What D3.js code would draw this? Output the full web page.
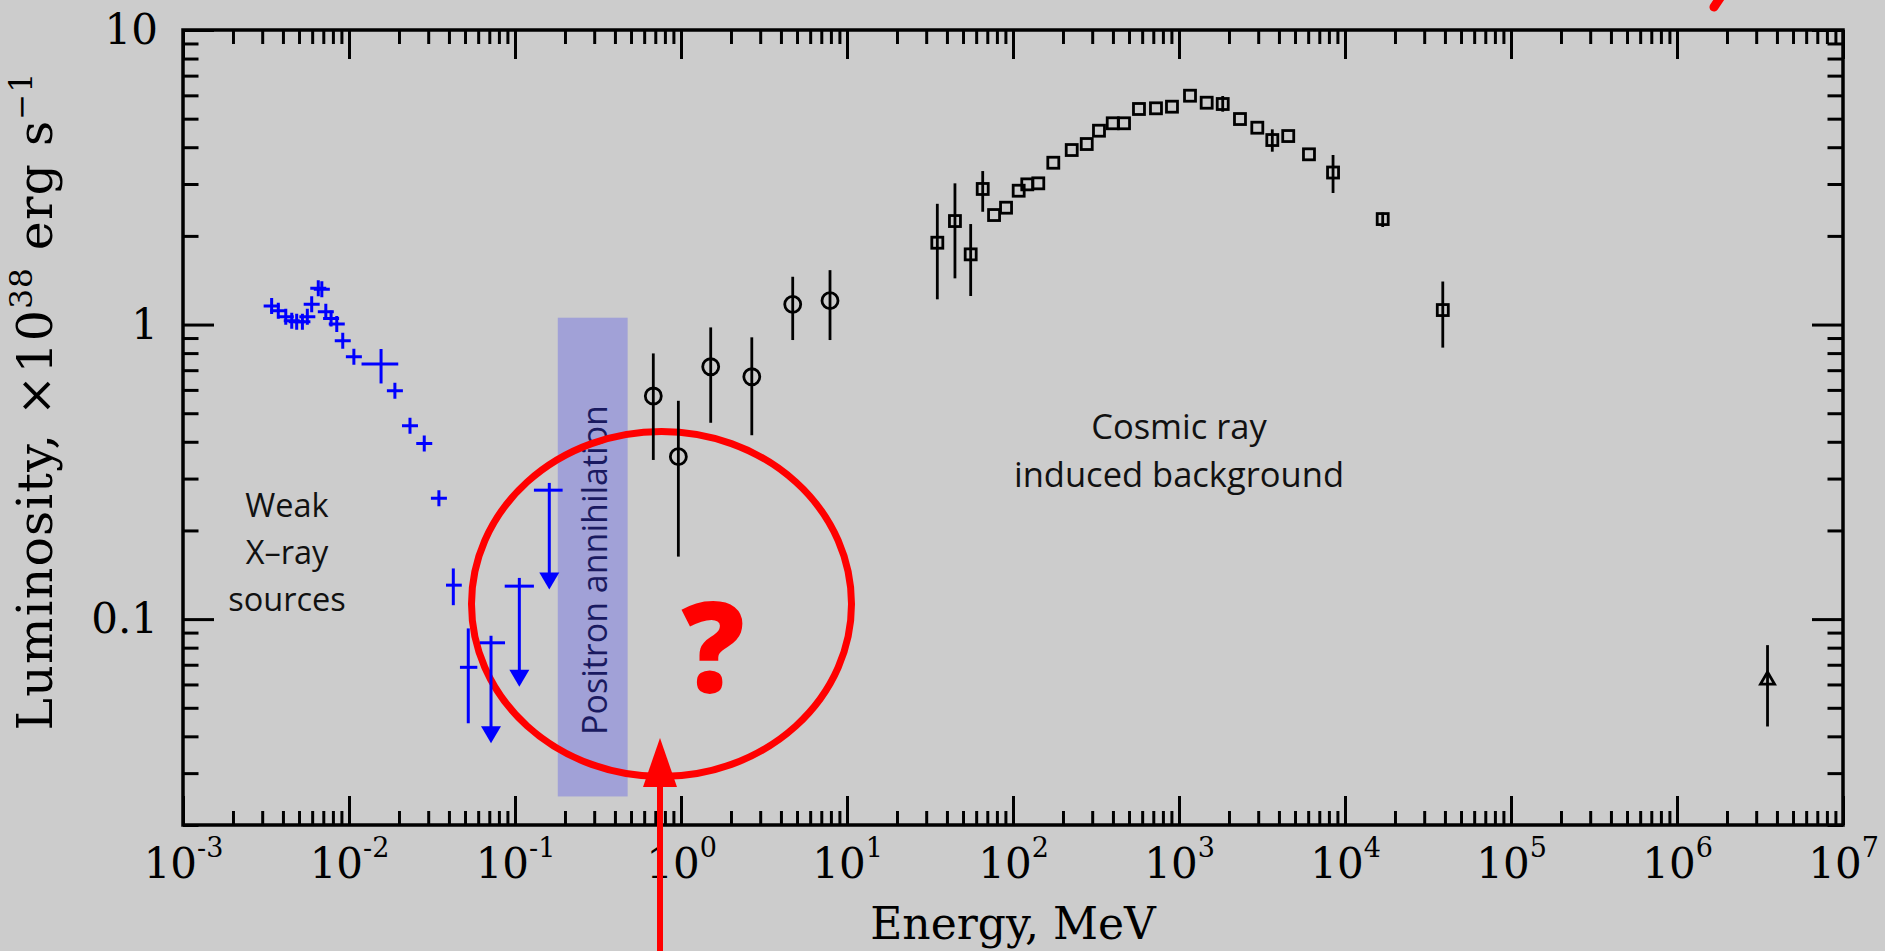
<!DOCTYPE html>
<html>
<head>
<meta charset="utf-8">
<script src="https://cdn.jsdelivr.net/npm/d3@7"></script>
<style>
  html, body { margin: 0; padding: 0; background: #cccccc; overflow: hidden; }
  svg { display: block; }
  text { white-space: pre; }
</style>
</head>
<body>
<svg id="chart" width="1885" height="951"></svg>
<script>
// ---------- data ----------
// Weak X-ray sources: plain points (energy in MeV, luminosity in 1e38 erg/s)
const xrayEnergy = [0.00342, 0.00375, 0.00416, 0.00452, 0.00484, 0.00524, 0.00561, 0.00596,
                    0.00653, 0.00686, 0.00725, 0.00780, 0.00844, 0.00917, 0.0107,
                    0.0189, 0.0233, 0.0284, 0.0348];
const xrayLum    = [1.156, 1.114, 1.063, 1.030, 1.022, 1.022, 1.063, 1.171,
                    1.327, 1.317, 1.105, 1.049, 1.004, 0.881, 0.777,
                    0.596, 0.453, 0.395, 0.257];

// X-ray points with explicit error bars
const xrayErrEnergy = [0.0156, 0.0425, 0.0523];
const xrayErrLum    = [0.734, 0.1304, 0.0686];
const xrayErrElo    = [0.0119, 0.0384, 0.0466];
const xrayErrEhi    = [0.0198, 0.0478, 0.0593];
const xrayErrLlo    = [0.631, 0.1115, 0.0443];
const xrayErrLhi    = [0.826, 0.1486, 0.0930];

// X-ray upper limits
const ulEnergy  = [0.0717, 0.1062, 0.1609];
const ulLum     = [0.0831, 0.1294, 0.274];
const ulElo     = [0.0615, 0.0867, 0.130];
const ulEhi     = [0.0871, 0.130, 0.1936];
const ulTop     = [0.0878, 0.138, 0.290];
const ulArrowTo = [0.0379, 0.0589, 0.126];

// MeV band (circles)
const mevEnergy = [0.681, 0.964, 1.51, 2.67, 4.71, 7.90];
const mevLum    = [0.572, 0.356, 0.719, 0.665, 1.171, 1.205];
const mevLo     = [0.347, 0.163, 0.464, 0.421, 0.886, 0.886];
const mevHi     = [0.798, 0.551, 0.978, 0.905, 1.453, 1.53];

// GeV band (squares); null = no error bar drawn
const gevEnergy = [35.0, 44.7, 55.6, 65.7, 76.9, 90.8, 108.2, 121.9, 142.0, 174.9,
                   225.8, 278.1, 329.6, 398.8, 466.5, 574.0, 726.6, 907.2, 1165, 1468,
                   1834, 2330, 2963, 3648, 4550, 6067, 8472, 16870, 38820];
const gevLum    = [1.896, 2.246, 1.731, 2.886, 2.354, 2.493, 2.847, 2.992, 3.016, 3.543,
                   3.913, 4.101, 4.551, 4.823, 4.823, 5.393, 5.422, 5.491, 5.983, 5.664,
                   5.607, 4.986, 4.659, 4.231, 4.365, 3.784, 3.282, 2.281, 1.120];
const gevLo     = [1.218, 1.435, 1.250, 2.415, null, null, null, null, null, null,
                   null, null, null, null, null, null, null, null, null, null,
                   5.28, null, null, 3.862, null, null, 2.796, 2.144, 0.835];
const gevHi     = [2.57, 3.016, 2.194, 3.320, null, null, null, null, null, null,
                   null, null, null, null, null, null, null, null, null, null,
                   5.97, null, null, 4.600, null, null, 3.764, 2.400, 1.400];

// TeV point (triangle)
const tevEnergy = [3.51e6];
const tevLum    = [0.0626];
const tevLo     = [0.0432];
const tevHi     = [0.0816];

// Positron annihilation band extent
const positronEnergy = [0.181, 0.477];
const positronLum    = [0.025, 1.055];

// Axis ticks
const xMajorTicks    = [1e-3, 1e-2, 1e-1, 1e0, 1e1, 1e2, 1e3, 1e4, 1e5, 1e6, 1e7];
const xTickExponents = ["-3", "-2", "-1", "0", "1", "2", "3", "4", "5", "6", "7"];
const yMajorTicks    = [0.1, 1, 10];
const yTickLabels    = ["0.1", "1", "10"];

// ---------- layout ----------
const plotL = 183, plotR = 1843, plotT = 30, plotB = 825;
const svg = d3.select("#chart");

const x = d3.scaleLog().domain([1e-3, 1e7]).range([plotL, plotR]);
const y = d3.scaleLog().domain([0.02, 10]).range([plotB, plotT]);

function minorTicks(domain) {
  const out = [];
  const e0 = Math.floor(Math.log10(domain[0])), e1 = Math.ceil(Math.log10(domain[1]));
  for (let e = e0; e < e1; e++) {
    for (let k = 2; k <= 9; k++) {
      const v = k * Math.pow(10, e);
      if (v >= domain[0] * 0.999 && v <= domain[1] * 1.001) out.push(v);
    }
  }
  return out;
}
const xMinor = minorTicks(x.domain());
const yMinor = minorTicks(y.domain());

svg.append("rect").attr("width", 1885).attr("height", 951).attr("fill", "#cccccc");

// ---------- positron annihilation band ----------
svg.append("rect")
  .attr("x", x(positronEnergy[0]))
  .attr("y", y(positronLum[1]))
  .attr("width", x(positronEnergy[1]) - x(positronEnergy[0]))
  .attr("height", y(positronLum[0]) - y(positronLum[1]))
  .attr("fill", "#a1a1d7");

const bandCx = (x(positronEnergy[0]) + x(positronEnergy[1])) / 2;
svg.append("text")
  .attr("transform", `translate(${bandCx + 1},${570}) rotate(-90)`)
  .attr("text-anchor", "middle")
  .attr("dominant-baseline", "central")
  .attr("font-family", "'Open Sans', sans-serif")
  .attr("font-size", 34)
  .attr("fill", "#1a1a60")
  .text("Positron annihilation");

// ---------- region annotations ----------
const annoFont = "'Open Sans', sans-serif";
const weak = svg.append("text").attr("font-family", annoFont).attr("font-size", 32.5)
  .attr("text-anchor", "middle").attr("fill", "#111");
[["Weak", 517], ["X\u2013ray", 564], ["sources", 611]].forEach(([t, yy]) =>
  weak.append("tspan").attr("x", 287).attr("y", yy).text(t));

const cosmic = svg.append("text").attr("font-family", annoFont).attr("font-size", 34.5)
  .attr("text-anchor", "middle").attr("fill", "#111");
[["Cosmic ray", 439], ["induced background", 487]].forEach(([t, yy]) =>
  cosmic.append("tspan").attr("x", 1179).attr("y", yy).text(t));

// ---------- red ellipse (behind the data) ----------
svg.append("ellipse")
  .attr("cx", 661.5).attr("cy", 604).attr("rx", 190).attr("ry", 172.5)
  .attr("fill", "none").attr("stroke", "#ff0000").attr("stroke-width", 7);

svg.append("text")
  .attr("x", 713).attr("y", 692)
  .attr("text-anchor", "middle")
  .attr("font-family", "'Open Sans', sans-serif")
  .attr("font-weight", 800)
  .attr("font-size", 125)
  .attr("fill", "#ff0000")
  .text("?");

// ---------- axes ----------
const tickFont = "'DejaVu Serif', serif";
const axW = 3;

function styleAxis(g) {
  g.select(".domain").remove();
  g.selectAll(".tick line").attr("stroke", "#000").attr("stroke-width", axW);
}

// bottom
const gxMinor = svg.append("g").attr("transform", `translate(0,${plotB})`)
  .call(d3.axisBottom(x).tickValues(xMinor).tickSizeInner(-14).tickSizeOuter(0).tickFormat(() => ""));
styleAxis(gxMinor);
const gx = svg.append("g").attr("transform", `translate(0,${plotB})`)
  .call(d3.axisBottom(x).tickValues(xMajorTicks).tickSizeInner(-29).tickSizeOuter(0)
        .tickPadding(23).tickFormat(() => ""));
styleAxis(gx);
gx.attr("font-family", tickFont).attr("font-size", 42);
gx.selectAll(".tick text").attr("fill", "#000").each(function (d, i) {
  const t = d3.select(this);
  t.append("tspan").text("10");
  t.append("tspan").attr("dy", -21).attr("font-size", 27).text(xTickExponents[i]);
});

// top
styleAxis(svg.append("g").attr("transform", `translate(0,${plotT})`)
  .call(d3.axisTop(x).tickValues(xMinor).tickSizeInner(-14).tickSizeOuter(0).tickFormat(() => "")));
styleAxis(svg.append("g").attr("transform", `translate(0,${plotT})`)
  .call(d3.axisTop(x).tickValues(xMajorTicks).tickSizeInner(-29).tickSizeOuter(0).tickFormat(() => "")));

// left
styleAxis(svg.append("g").attr("transform", `translate(${plotL},0)`)
  .call(d3.axisLeft(y).tickValues(yMinor).tickSizeInner(-15.5).tickSizeOuter(0).tickFormat(() => "")));
const gy = svg.append("g").attr("transform", `translate(${plotL},0)`)
  .call(d3.axisLeft(y).tickValues(yMajorTicks).tickSizeInner(-31).tickSizeOuter(0)
        .tickPadding(25).tickFormat((d, i) => yTickLabels[i]));
styleAxis(gy);
gy.attr("font-family", tickFont).attr("font-size", 42);
gy.selectAll(".tick text").attr("fill", "#000");

// right
styleAxis(svg.append("g").attr("transform", `translate(${plotR},0)`)
  .call(d3.axisRight(y).tickValues(yMinor).tickSizeInner(-15.5).tickSizeOuter(0).tickFormat(() => "")));
styleAxis(svg.append("g").attr("transform", `translate(${plotR},0)`)
  .call(d3.axisRight(y).tickValues(yMajorTicks).tickSizeInner(-31).tickSizeOuter(0).tickFormat(() => "")));

// frame
svg.append("rect")
  .attr("x", plotL).attr("y", plotT).attr("width", plotR - plotL).attr("height", plotB - plotT)
  .attr("fill", "none").attr("stroke", "#000").attr("stroke-width", 3.5);

// axis titles
svg.append("text")
  .attr("x", (plotL + plotR) / 2).attr("y", 939)
  .attr("text-anchor", "middle")
  .attr("font-family", tickFont).attr("font-size", 44).attr("fill", "#000")
  .text("Energy, MeV");

const ylab = svg.append("text")
  .attr("transform", `translate(52,401) rotate(-90)`)
  .attr("text-anchor", "middle")
  .attr("font-family", tickFont).attr("font-size", 49)
  .attr("letter-spacing", 1.2).attr("fill", "#000");
ylab.append("tspan").text("Luminosity, \u00d710");
ylab.append("tspan").attr("dy", -20).attr("font-size", 31).text("38");
ylab.append("tspan").attr("dy", 20).text(" erg s");
ylab.append("tspan").attr("dy", -20).attr("font-size", 31).text("\u22121");

// ---------- data marks ----------
const blue = "#0000ff";
const dataG = svg.append("g");

// plain X-ray crosses
dataG.selectAll(".xray").data(xrayEnergy).join("path")
  .attr("transform", (d, i) => `translate(${x(d)},${y(xrayLum[i])})`)
  .attr("d", "M-8,0H8M0,-8V8")
  .attr("stroke", blue).attr("stroke-width", 3).attr("fill", "none");

// X-ray error-bar crosses
xrayErrEnergy.forEach((e, i) => {
  dataG.append("line").attr("x1", x(xrayErrElo[i])).attr("x2", x(xrayErrEhi[i]))
    .attr("y1", y(xrayErrLum[i])).attr("y2", y(xrayErrLum[i]))
    .attr("stroke", blue).attr("stroke-width", 3);
  dataG.append("line").attr("x1", x(e)).attr("x2", x(e))
    .attr("y1", y(xrayErrLhi[i])).attr("y2", y(xrayErrLlo[i]))
    .attr("stroke", blue).attr("stroke-width", 3);
});

// X-ray upper limits with arrows
ulEnergy.forEach((e, i) => {
  const cx = x(e), tipY = y(ulArrowTo[i]), head = 17, hw = 10;
  dataG.append("line").attr("x1", x(ulElo[i])).attr("x2", x(ulEhi[i]))
    .attr("y1", y(ulLum[i])).attr("y2", y(ulLum[i]))
    .attr("stroke", blue).attr("stroke-width", 3);
  dataG.append("line").attr("x1", cx).attr("x2", cx)
    .attr("y1", y(ulTop[i])).attr("y2", tipY - head + 2)
    .attr("stroke", blue).attr("stroke-width", 3);
  dataG.append("path")
    .attr("d", `M${cx - hw},${tipY - head}L${cx + hw},${tipY - head}L${cx},${tipY}Z`)
    .attr("fill", blue);
});

// black error bars
function vbar(e, lo, hi) {
  dataG.append("line").attr("x1", x(e)).attr("x2", x(e))
    .attr("y1", y(hi)).attr("y2", y(lo))
    .attr("stroke", "#000").attr("stroke-width", 2.8);
}
mevEnergy.forEach((e, i) => vbar(e, mevLo[i], mevHi[i]));
gevEnergy.forEach((e, i) => { if (gevLo[i] != null) vbar(e, gevLo[i], gevHi[i]); });
tevEnergy.forEach((e, i) => vbar(e, tevLo[i], tevHi[i]));

// circles
dataG.selectAll(".mev").data(mevEnergy).join("circle")
  .attr("cx", d => x(d)).attr("cy", (d, i) => y(mevLum[i])).attr("r", 8)
  .attr("fill", "none").attr("stroke", "#000").attr("stroke-width", 2.8);

// squares
const sq = 11;
dataG.selectAll(".gev").data(gevEnergy).join("rect")
  .attr("x", d => x(d) - sq / 2).attr("y", (d, i) => y(gevLum[i]) - sq / 2)
  .attr("width", sq).attr("height", sq)
  .attr("fill", "none").attr("stroke", "#000").attr("stroke-width", 2.8);

// triangle
dataG.selectAll(".tev").data(tevEnergy).join("path")
  .attr("transform", (d, i) => `translate(${x(d)},${y(tevLum[i])})`)
  .attr("d", "M0,-7L7,5L-7,5Z")
  .attr("fill", "none").attr("stroke", "#000").attr("stroke-width", 2.8)
  .attr("stroke-linejoin", "miter");

// ---------- red pointer arrow ----------
const red = "#ff0000";
svg.append("line").attr("x1", 660).attr("x2", 660).attr("y1", 951).attr("y2", 780)
  .attr("stroke", red).attr("stroke-width", 6);
svg.append("path").attr("d", "M643,787L677,787L660,738Z").attr("fill", red);

// red stroke entering from the top edge
svg.append("line").attr("x1", 1724).attr("y1", -8).attr("x2", 1714).attr("y2", 7)
  .attr("stroke", red).attr("stroke-width", 9).attr("stroke-linecap", "round");
</script>
</body>
</html>
